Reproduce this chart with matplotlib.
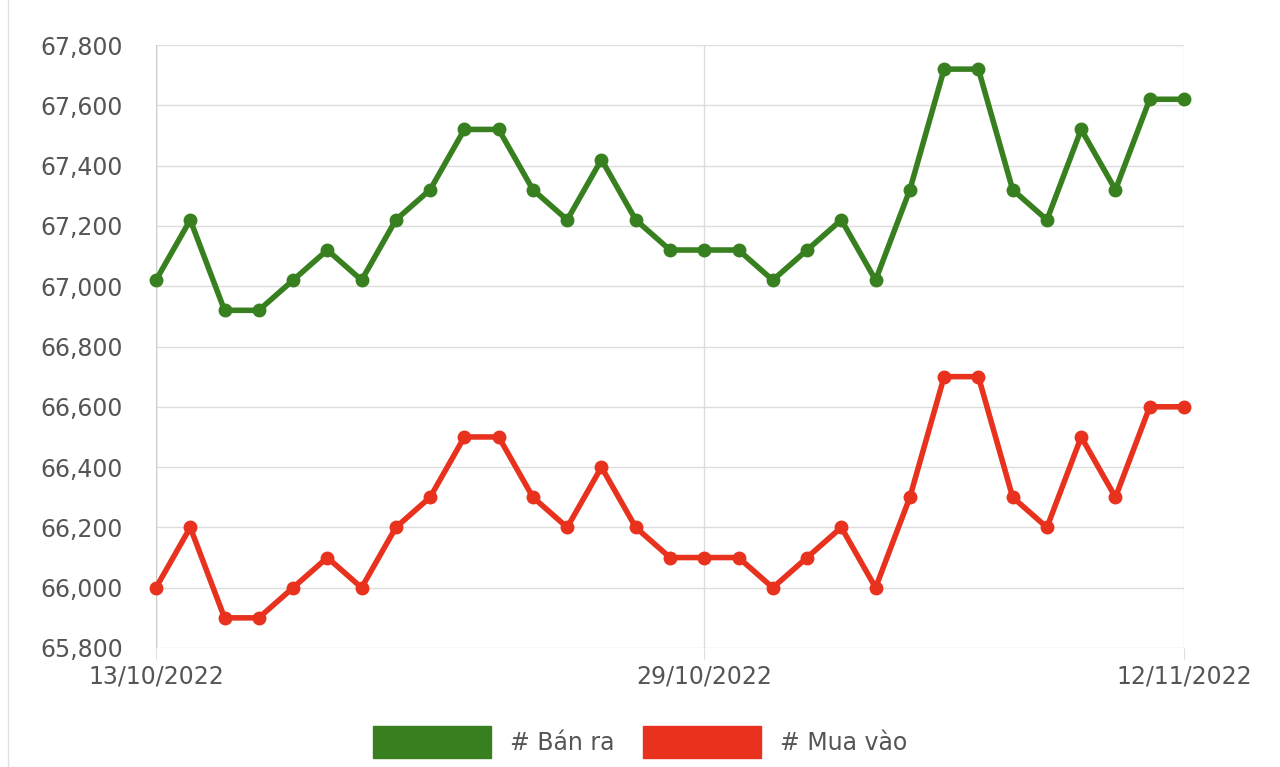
import matplotlib
matplotlib.use("Agg")
import matplotlib.pyplot as plt
from matplotlib.patches import Patch

days = list(range(31))
tick_pos = [0, 16, 30]
tick_labels = ["13/10/2022", "29/10/2022", "12/11/2022"]
ban_ra = [67020, 67220, 66920, 66920, 67020, 67120, 67020, 67220, 67320, 67520, 67520,
          67320, 67220, 67420, 67220, 67120, 67120, 67120, 67020, 67120, 67220, 67020,
          67320, 67720, 67720, 67320, 67220, 67520, 67320, 67620, 67620]
mua_vao = [66000, 66200, 65900, 65900, 66000, 66100, 66000, 66200, 66300, 66500, 66500,
           66300, 66200, 66400, 66200, 66100, 66100, 66100, 66000, 66100, 66200, 66000,
           66300, 66700, 66700, 66300, 66200, 66500, 66300, 66600, 66600]

green = "#38801f"
red = "#e8321e"

fig = plt.figure(figsize=(12.8, 7.67), dpi=100)
ax = fig.add_axes([156/1280, 1 - 648/767, (1184-156)/1280, (648-45)/767])
ax.plot(days, ban_ra, color=green, lw=4, marker="o", ms=9, zorder=3, clip_on=False)
ax.plot(days, mua_vao, color=red, lw=4, marker="o", ms=9, zorder=3, clip_on=False)

ax.set_xlim(0, 30)
ax.set_ylim(65800, 67800)
ax.set_yticks(range(65800, 67801, 200))
ax.set_yticklabels([f"{v:,}" for v in range(65800, 67801, 200)])
ax.set_xticks(tick_pos)
ax.set_xticklabels(tick_labels)
ax.grid(True, color="#dddddd", lw=1)
for s in ax.spines.values():
    s.set_visible(False)
ax.axvline(0, color="#cccccc", lw=1)
ax.tick_params(length=8, color="#dddddd", labelsize=17, labelcolor="#555555", pad=4)
ax.tick_params(axis="y", length=0, pad=24)

fig.legend(handles=[Patch(color=green, label="# Bán ra"), Patch(color=red, label="# Mua vào")],
           loc="center", bbox_to_anchor=(0.5, 1 - 742/767), ncol=2, frameon=False,
           fontsize=17, handlelength=5, handleheight=1.7, columnspacing=1.2,
           labelcolor="#555555")
fig.add_artist(plt.Line2D([8/1280, 8/1280], [0, 1], color="#e0e0e0", lw=1))
fig.savefig("out.png", dpi=100)
